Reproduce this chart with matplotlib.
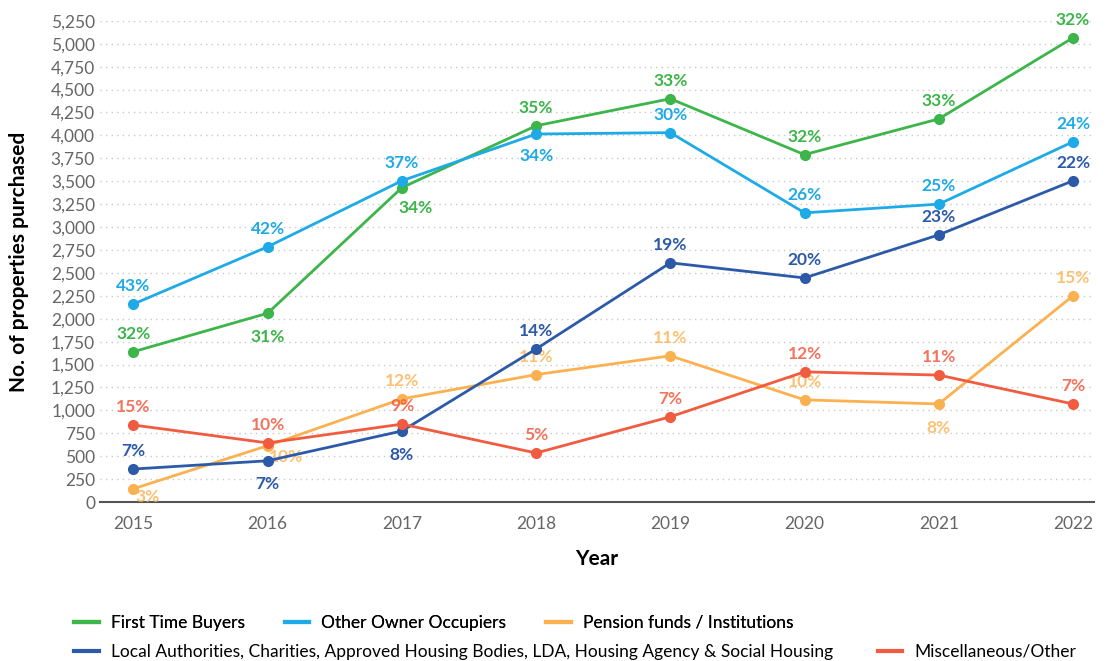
import matplotlib.pyplot as plt

years = [2015, 2016, 2017, 2018, 2019, 2020, 2021, 2022]

first_time = [1640, 2060, 3430, 4105, 4400, 3790, 4180, 5065]
other_owner = [2160, 2785, 3505, 4015, 4030, 3155, 3250, 3930]
pension = [145, 615, 1125, 1390, 1595, 1115, 1070, 2250]
local_auth = [360, 450, 775, 1670, 2610, 2445, 2915, 3505]
misc = [840, 645, 850, 535, 930, 1420, 1385, 1070]

pct_first = ['32%', '31%', '34%', '35%', '33%', '32%', '33%', '32%']
pct_other = ['43%', '42%', '37%', '34%', '30%', '26%', '25%', '24%']
pct_pension = ['3%', '10%', '12%', '11%', '11%', '10%', '8%', '15%']
pct_local = ['7%', '7%', '8%', '14%', '19%', '20%', '23%', '22%']
pct_misc = ['15%', '10%', '9%', '5%', '7%', '12%', '11%', '7%']

plt.rcParams['font.family'] = ['Lato', 'DejaVu Sans']

c_green = '#3cb54a'
c_blue = '#1eaae7'
c_orange = '#fbb150'
c_navy = '#2c5aa8'
c_red = '#f15b40'

fig = plt.figure(figsize=(11.1, 6.61), dpi=100)
ax = fig.add_axes([0.09, 0.2405, 0.896, 0.728])

series = [
    (first_time, c_green, 'First Time Buyers', pct_first,
     [(0, 13), (0, -17), (10, -15), (0, 13), (0, 13), (0, 13), (0, 13), (0, 13)], 1.0),
    (other_owner, c_blue, 'Other Owner Occupiers', pct_other,
     [(0, 13), (0, 13), (0, 13), (0, -16), (0, 13), (0, 13), (0, 13), (0, 13)], 1.0),
    (pension, c_orange, 'Pension funds / Institutions', pct_pension,
     [(10, -6), (13, -8), (0, 13), (0, 13), (0, 13), (0, 13), (0, -17), (0, 13)], 0.8),
    (local_auth, c_navy, 'Local Authorities, Charities, Approved Housing Bodies, LDA, Housing Agency & Social Housing', pct_local,
     [(0, 13), (0, -17), (0, -17), (0, 13), (0, 13), (0, 13), (0, 13), (0, 13)], 1.0),
    (misc, c_red, 'Miscellaneous/Other', pct_misc,
     [(0, 13), (0, 13), (0, 13), (0, 13), (0, 13), (0, 13), (0, 13), (0, 13)], 0.85),
]

handles = []
for vals, col, name, pcts, offs, a in series:
    ln, = ax.plot(years, vals, color=col, lw=2, marker='o', ms=7, label=name,
                  clip_on=False, zorder=3)
    handles.append(ln)
    for x, y, t, o in zip(years, vals, pcts, offs):
        ax.annotate(t, (x, y), xytext=o, textcoords='offset points', ha='center',
                    va='center', color=col, fontsize=12.5, fontweight='bold', alpha=a)

ax.set_xlim(2014.75, 2022.16)
ax.set_ylim(0, 5250)
ax.set_yticks(range(0, 5251, 250))
ax.set_yticklabels([f'{v:,}' for v in range(0, 5251, 250)])
ax.set_xticks(years)
ax.yaxis.grid(True, linestyle=(0, (1, 3)), color='#c8c8c8', lw=1)
ax.set_axisbelow(True)
for s in ['top', 'right', 'left']:
    ax.spines[s].set_visible(False)
ax.spines['bottom'].set_color('#555555')
ax.spines['bottom'].set_linewidth(1.5)
ax.tick_params(axis='both', length=0, colors='#666666', labelsize=12.5)
ax.tick_params(axis='x', pad=10)
ax.set_xlabel('Year', fontsize=15, fontweight='bold', labelpad=12)
ax.set_ylabel('No. of properties purchased', fontsize=15, fontweight='bold', labelpad=16)

leg1 = fig.legend(handles=handles[:3], loc='center left', bbox_to_anchor=(0.053, 0.058),
                  ncol=3, frameon=False, fontsize=12.5, handlelength=1.4, columnspacing=2.3,
                  handletextpad=0.7)
for h in leg1.get_lines():
    h.set_marker('')
    h.set_linewidth(3)
fig.add_artist(leg1)
leg2 = fig.legend(handles=handles[3:], loc='center left', bbox_to_anchor=(0.053, 0.014),
                  ncol=2, frameon=False, fontsize=12.5, handlelength=1.4, columnspacing=2.6,
                  handletextpad=0.7)
for h in leg2.get_lines():
    h.set_marker('')
    h.set_linewidth(3)

fig.savefig('out.png')
